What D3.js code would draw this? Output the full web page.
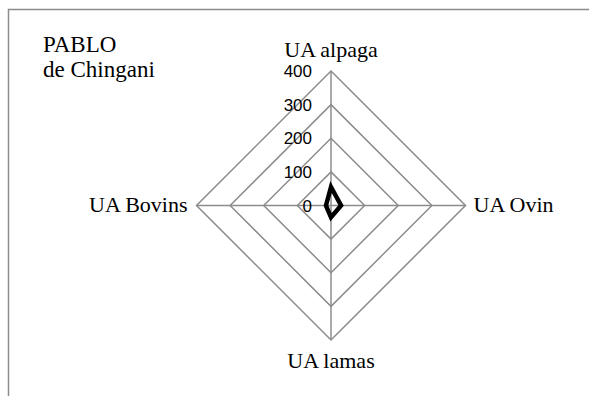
<!doctype html>
<html>
<head>
<meta charset="utf-8">
<title>PABLO de Chingani</title>
<script src="https://cdn.jsdelivr.net/npm/d3@7"></script>
<style>
	body { margin: 0; background: #fff; }
	svg { display: block; }
	.serif { font-family: "Liberation Serif", "Times New Roman", serif; }
</style>
</head>
<body>
<div id="main"></div>
<script>
	// donnees
	var categories = ['UA alpaga', 'UA Ovin', 'UA lamas', 'UA Bovins'];
	var values = [55, 30, 35, 15];
	var ticks = [0, 100, 200, 300, 400];
	var titleLines = ['PABLO', 'de Chingani'];

	var width = 589, height = 396;
	var cx = 331, cy = 205.5, radius = 134.5;

	var svg = d3.select('#main').append('svg')
		.attr('width', width)
		.attr('height', height);

	// cadre du graphique (depasse a droite et en bas)
	svg.append('rect')
		.attr('x', 8.5).attr('y', 9.5)
		.attr('width', 620).attr('height', 420)
		.style('fill', 'none')
		.style('stroke', '#8c8c8c')
		.style('stroke-width', 1.5);

	var r = d3.scaleLinear().domain([0, 400]).range([0, radius]);
	var angle = d3.scaleLinear().domain([0, categories.length]).range([0, 2 * Math.PI]);

	var g = svg.append('g').attr('transform', 'translate(' + cx + ',' + cy + ')');

	var radial = d3.lineRadial()
		.angle(function(d) { return angle(d.i); })
		.radius(function(d) { return r(d.v); })
		.curve(d3.curveLinearClosed);

	// grille
	ticks.filter(function(t) { return t > 0; }).forEach(function(t) {
		g.append('path')
			.attr('d', radial(categories.map(function(c, i) { return {i: i, v: t}; })))
			.style('fill', 'none')
			.style('stroke', '#8c8c8c')
			.style('stroke-width', 1.5);
	});

	// rayons
	categories.forEach(function(c, i) {
		var a = angle(i);
		var rr = r(ticks[ticks.length - 1]);
		g.append('line')
			.attr('x1', 0).attr('y1', 0)
			.attr('x2', rr * Math.sin(a)).attr('y2', -rr * Math.cos(a))
			.style('stroke', '#8c8c8c')
			.style('stroke-width', 1.5);
	});

	// etiquettes de l'axe
	g.selectAll('text.tick')
		.data(ticks)
		.enter().append('text')
		.attr('class', 'tick')
		.attr('x', -19)
		.attr('y', function(d) { return -r(d); })
		.attr('dy', '0.36em')
		.attr('text-anchor', 'end')
		.style('font-family', '"Liberation Sans", Arial, sans-serif')
		.style('font-size', '17px')
		.style('fill', '#000')
		.text(function(d) { return d; });

	// serie
	g.append('path')
		.attr('d', radial(values.map(function(v, i) { return {i: i, v: v}; })))
		.style('fill', 'none')
		.style('stroke', '#000')
		.style('stroke-width', 4.5)
		.style('stroke-linejoin', 'miter');

	// noms des categories
	var labelPos = [
		{dx: 0, dy: -14, anchor: 'middle', base: 'auto'},
		{dx: 8, dy: 0, anchor: 'start', base: 'middle'},
		{dx: 0, dy: 28, anchor: 'middle', base: 'auto'},
		{dx: -9, dy: 0, anchor: 'end', base: 'middle'}
	];
	categories.forEach(function(c, i) {
		var a = angle(i);
		var rr = r(ticks[ticks.length - 1]);
		var p = labelPos[i];
		g.append('text')
			.attr('class', 'serif')
			.attr('x', rr * Math.sin(a) + p.dx)
			.attr('y', -rr * Math.cos(a) + p.dy)
			.attr('dy', p.base === 'middle' ? '0.3em' : 0)
			.attr('text-anchor', p.anchor)
			.style('font-size', '22px')
			.style('fill', '#000')
			.text(c);
	});

	// titre
	svg.selectAll('text.title')
		.data(titleLines)
		.enter().append('text')
		.attr('class', 'title serif')
		.attr('x', 43)
		.attr('y', function(d, i) { return 52 + i * 25; })
		.style('font-size', '23px')
		.style('fill', '#000')
		.text(function(d) { return d; });
</script>
</body>
</html>
